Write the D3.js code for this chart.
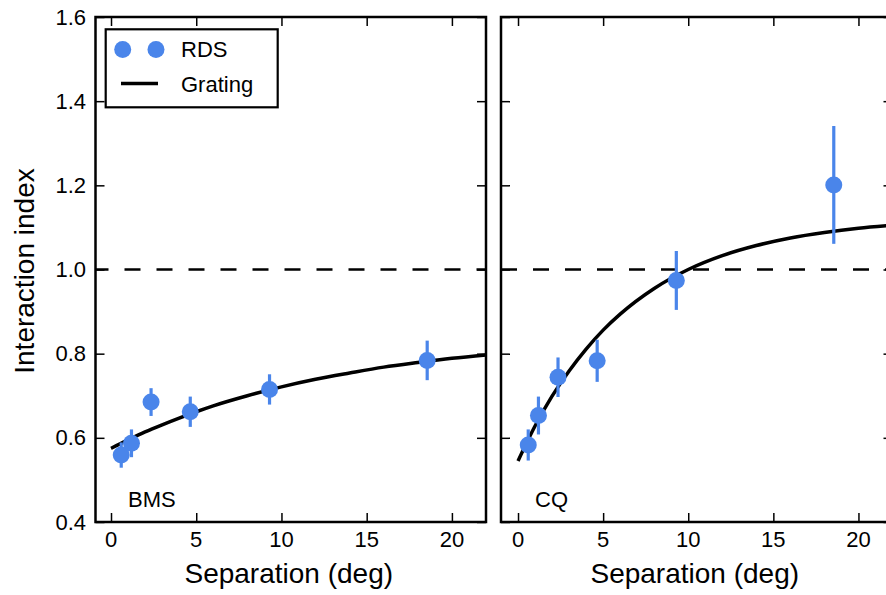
<!DOCTYPE html>
<html>
<head>
<meta charset="utf-8">
<script src="https://cdn.jsdelivr.net/npm/d3@7"></script>
<style>
  html, body { margin: 0; padding: 0; background: #fff; }
  svg { display: block; font-family: "Liberation Sans", Arial, Helvetica, sans-serif; }
</style>
</head>
<body>
<svg id="chart" width="886" height="595"></svg>
<script>
// Stimulus separation (deg) for each RDS measurement
const separations = [0.6, 1.2, 2.35, 4.65, 9.3, 18.55];

// Observer BMS: RDS interaction index and error half-widths
const bmsValues = [0.559, 0.587, 0.685, 0.662, 0.715, 0.784];
const bmsErrors = [0.030, 0.033, 0.033, 0.036, 0.036, 0.047];

// Observer CQ: RDS interaction index and error half-widths
const cqValues = [0.583, 0.653, 0.744, 0.783, 0.974, 1.201];
const cqErrors = [0.037, 0.045, 0.047, 0.050, 0.070, 0.140];

// Grating curves, sampled along separation
const curveX = [0, 1, 2, 3, 4, 5, 6, 8, 10, 12, 14, 16, 18, 20, 22];
const bmsGrating = [0.575, 0.595, 0.614, 0.631, 0.647, 0.662, 0.676, 0.700, 0.721, 0.739, 0.754, 0.768, 0.779, 0.789, 0.797];
const cqGrating  = [0.545, 0.628, 0.699, 0.759, 0.811, 0.856, 0.894, 0.955, 1.000, 1.033, 1.057, 1.075, 1.088, 1.098, 1.105];

const xTicks = [0, 5, 10, 15, 20];
const yTicks = [0.4, 0.6, 0.8, 1.0, 1.2, 1.4, 1.6];
const yDomain = [0.4, 1.6];
const refLevel = 1.0;

const panels = [
  { name: "BMS", values: bmsValues, errors: bmsErrors, grating: bmsGrating,
    left: 95.5, right: 486, xDomain: [-0.91, 22], showY: true },
  { name: "CQ", values: cqValues, errors: cqErrors, grating: cqGrating,
    left: 501, right: 892.5, xDomain: [-1.0, 22], showY: false }
];

const blue = "#4a85ea";
const plotTop = 17, plotBottom = 522;
const svg = d3.select("#chart");

const y = d3.scaleLinear().domain(yDomain).range([plotBottom, plotTop]);

panels.forEach((p, pi) => {
  const x = d3.scaleLinear().domain(p.xDomain).range([p.left, p.right]);
  const g = svg.append("g");

  const clipId = "clip" + pi;
  svg.append("clipPath").attr("id", clipId)
    .append("rect").attr("x", p.left).attr("y", plotTop)
    .attr("width", p.right - p.left).attr("height", plotBottom - plotTop);

  // Reference line at interaction index 1
  g.append("line")
    .attr("x1", p.left).attr("x2", p.right)
    .attr("y1", y(refLevel)).attr("y2", y(refLevel))
    .attr("stroke", "#000").attr("stroke-width", 2.5)
    .attr("stroke-dasharray", "16,16")
    .attr("stroke-dashoffset", pi === 0 ? 3 : 0);

  // Ticks on all four sides, pointing inward
  const tickLen = 9;
  const axBottom = d3.axisBottom(x).tickValues(xTicks).tickSize(-tickLen).tickFormat("");
  const axTop = d3.axisTop(x).tickValues(xTicks).tickSize(-tickLen).tickFormat("");
  const axLeft = d3.axisLeft(y).tickValues(yTicks).tickSize(-tickLen).tickFormat("");
  const axRight = d3.axisRight(y).tickValues(yTicks).tickSize(-tickLen).tickFormat("");
  [[axBottom, `translate(0,${plotBottom})`], [axTop, `translate(0,${plotTop})`],
   [axLeft, `translate(${p.left},0)`], [axRight, `translate(${p.right},0)`]]
    .forEach(([ax, tr]) => {
      const a = g.append("g").attr("transform", tr).call(ax);
      a.select(".domain").remove();
      a.selectAll(".tick line").attr("stroke", "#000").attr("stroke-width", 1.5);
    });

  // Tick labels
  g.selectAll(".xlab").data(xTicks).enter().append("text")
    .attr("x", d => x(d)).attr("y", 547)
    .attr("text-anchor", "middle").attr("font-size", 22).attr("fill", "#000")
    .text(d => d);
  if (p.showY) {
    g.selectAll(".ylab").data(yTicks).enter().append("text")
      .attr("x", 86).attr("y", d => y(d))
      .attr("text-anchor", "end").attr("dominant-baseline", "central")
      .attr("font-size", 22).attr("fill", "#000")
      .text(d => d.toFixed(1));
  }

  // Grating curve
  const line = d3.line().x(d => x(d[0])).y(d => y(d[1])).curve(d3.curveMonotoneX);
  g.append("path")
    .datum(curveX.map((v, i) => [v, p.grating[i]]))
    .attr("clip-path", `url(#${clipId})`)
    .attr("d", line)
    .attr("fill", "none").attr("stroke", "#000").attr("stroke-width", 3.5);

  // RDS points with error bars
  const pts = separations.map((s, i) => ({ s, v: p.values[i], e: p.errors[i] }));
  g.selectAll(".err").data(pts).enter().append("line")
    .attr("x1", d => x(d.s)).attr("x2", d => x(d.s))
    .attr("y1", d => y(d.v - d.e)).attr("y2", d => y(d.v + d.e))
    .attr("stroke", blue).attr("stroke-width", 3.2);
  g.selectAll(".pt").data(pts).enter().append("circle")
    .attr("cx", d => x(d.s)).attr("cy", d => y(d.v)).attr("r", 8.5)
    .attr("fill", blue);

  // Panel frame
  g.append("rect")
    .attr("x", p.left).attr("y", plotTop)
    .attr("width", p.right - p.left).attr("height", plotBottom - plotTop)
    .attr("fill", "none").attr("stroke", "#000").attr("stroke-width", 2.5);

  // Observer label
  g.append("text").attr("x", x(0) + 17).attr("y", 507)
    .attr("font-size", 22).attr("fill", "#000").text(p.name);

  // X axis title
  g.append("text")
    .attr("x", (p.left + p.right) / 2 - 2).attr("y", 583)
    .attr("text-anchor", "middle").attr("font-size", 28).attr("fill", "#000")
    .text("Separation (deg)");
});

// Y axis title
svg.append("text")
  .attr("transform", "translate(34,271) rotate(-90)")
  .attr("text-anchor", "middle").attr("font-size", 28).attr("fill", "#000")
  .text("Interaction index");

// Legend
const lg = svg.append("g");
lg.append("rect").attr("x", 105.7).attr("y", 29.3).attr("width", 172).attr("height", 78)
  .attr("fill", "#fff").attr("stroke", "#000").attr("stroke-width", 2.2);
[122.7, 156].forEach(cx => {
  lg.append("circle").attr("cx", cx).attr("cy", 49.5).attr("r", 8.5).attr("fill", blue);
});
lg.append("text").attr("x", 181).attr("y", 57).attr("font-size", 22).attr("fill", "#000").text("RDS");
lg.append("line").attr("x1", 121).attr("x2", 158).attr("y1", 83.5).attr("y2", 83.5)
  .attr("stroke", "#000").attr("stroke-width", 3.5);
lg.append("text").attr("x", 181).attr("y", 92).attr("font-size", 22).attr("fill", "#000").text("Grating");
</script>
</body>
</html>
